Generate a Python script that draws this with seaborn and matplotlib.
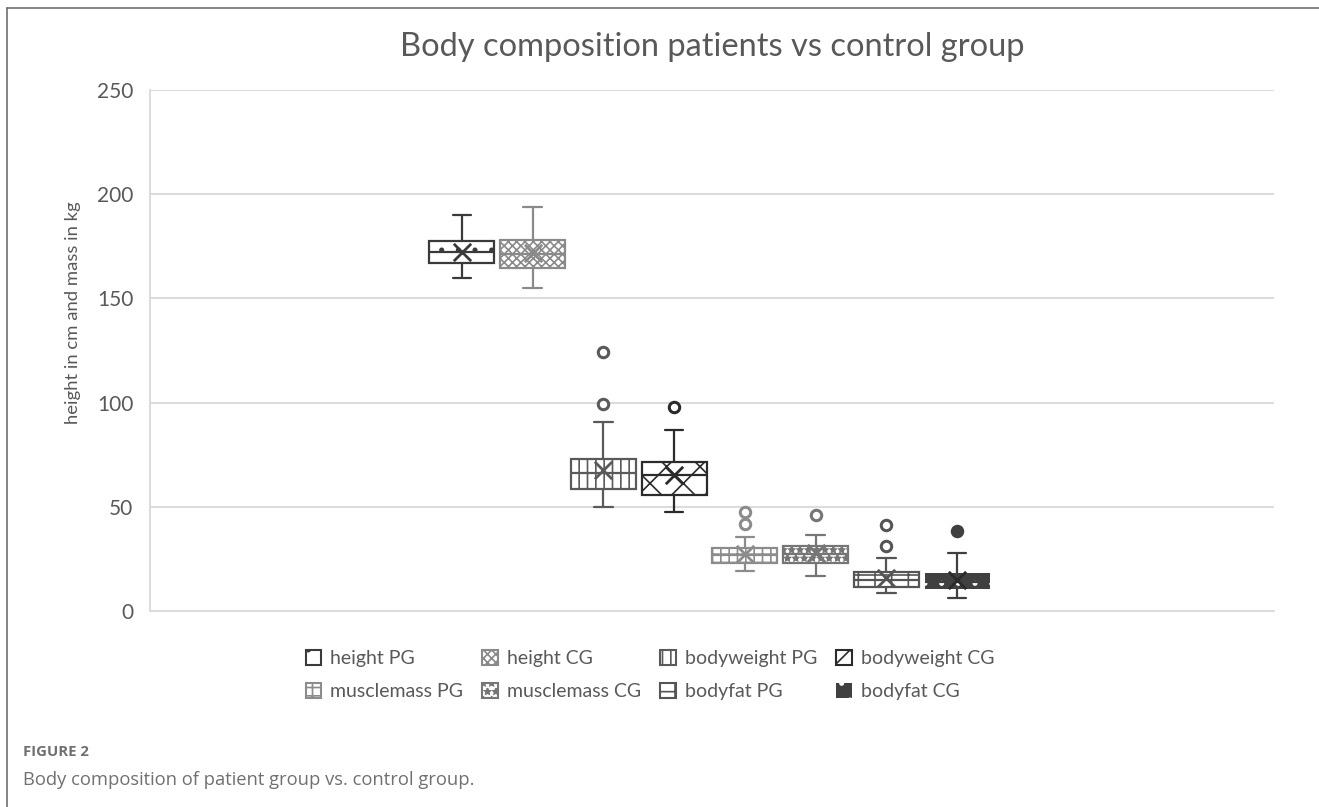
import numpy as np
import pandas as pd
import matplotlib.pyplot as plt
from matplotlib.patches import Patch
from matplotlib.lines import Line2D
import seaborn as sns

sns.set_style("white")
plt.rcParams['font.family'] = ['Lato', 'DejaVu Sans']
plt.rcParams['hatch.linewidth'] = 1.2

# five-number summaries
measures = ["height PG", "height CG", "bodyweight PG", "bodyweight CG",
            "musclemass PG", "musclemass CG", "bodyfat PG", "bodyfat CG"]
whisker_low = [159.9, 154.8, 49.8, 47.4, 19.3, 16.8, 8.5, 6.1]
q1 = [167.0, 164.7, 58.4, 55.7, 23.2, 22.9, 11.7, 10.4]
median = [172.4, 171.3, 66.0, 65.1, 26.9, 27.4, 14.9, 13.9]
q3 = [177.7, 178.0, 72.9, 71.6, 30.1, 31.3, 18.9, 18.1]
whisker_high = [190.0, 194.0, 90.5, 86.9, 35.4, 36.5, 25.3, 28.0]
means = [172.5, 172.0, 67.5, 65.3, 27.5, 28.0, 16.0, 14.9]
outliers = [[], [], [99.2, 124.3], [98.0], [41.6, 47.6], [46.2], [31.3, 41.3], [38.5]]

face_colors = ["white", "white", "white", "white", "white", "white", "white", "#404040"]
line_colors = ["#3a3a3a", "#8a8a8a", "#5a5a5a", "#2b2b2b", "#8c8c8c", "#767676", "#555555", "#404040"]
hatches = [".", "xxxx", "||", "x", "++", "**", "+", "."]

# five values per group -> quartiles land exactly on the summary values
rows = []
for m, lo, a, md, b, hi in zip(measures, whisker_low, q1, median, q3, whisker_high):
    for v in (lo, a, md, b, hi):
        rows.append((m, v))
df = pd.DataFrame(rows, columns=["measure", "value"])

fig = plt.figure(figsize=(13.19, 8.07), dpi=100)
ax = fig.add_axes([150 / 1319, 1 - 611 / 807, 1124 / 1319, 521 / 807])

for i, m in enumerate(measures):
    sub = df[df["measure"] == m]
    sns.boxplot(data=sub, x="measure", y="value", order=measures,
                color=face_colors[i], linecolor=line_colors[i], linewidth=1.6,
                width=0.92, whis=(0, 100), saturation=1, fliersize=0,
                capwidths=0.26, ax=ax)
    box = ax.patches[-1]
    box.set_hatch(hatches[i])
    if i == 7:
        # white dots on the dark box
        box.set_edgecolor("white")
        box.set_linewidth(0)
    if outliers[i]:
        sns.stripplot(x=[m] * len(outliers[i]), y=outliers[i], order=measures,
                      jitter=False, marker="o", size=7.5, color=face_colors[i],
                      edgecolor=line_colors[i], linewidth=2.2, ax=ax, zorder=4)
    sns.stripplot(x=[m], y=[means[i]], order=measures, jitter=False, marker="x",
                  size=12.5, color=line_colors[i] if i != 7 else "#2a2a2a",
                  linewidth=2, ax=ax, zorder=4)

ax.set_xlim(-4.41, 11.48)
ax.set_ylim(0, 250)
ax.set_yticks(np.arange(0, 251, 50))
ax.set_xticks([])
ax.set_xlabel("")
ax.set_ylabel("")
ax.yaxis.grid(True, color="#d9d9d9", linewidth=1.3)
ax.set_axisbelow(True)
for s in ["top", "right"]:
    ax.spines[s].set_visible(False)
for s in ["left", "bottom"]:
    ax.spines[s].set_color("#d9d9d9")
    ax.spines[s].set_linewidth(1.3)
ax.tick_params(axis="y", length=0, pad=12, labelsize=15, labelcolor="#595959")

fig.text(712 / 1319, 1 - 47 / 807, "Body composition patients vs control group",
         ha="center", va="center", fontsize=23.5, color="#595959")
fig.text(73 / 1319, 1 - 313 / 807, "height in cm and mass in kg", rotation=90,
         ha="center", va="center", fontsize=13.3, color="#595959")

handles = []
for i, m in enumerate(measures):
    if i == 7:
        h = Patch(facecolor=face_colors[i], edgecolor="white", hatch=hatches[i],
                  linewidth=0, label=m)
    else:
        h = Patch(facecolor=face_colors[i], edgecolor=line_colors[i],
                  hatch=hatches[i], linewidth=1.5, label=m)
    handles.append(h)
order = [0, 4, 1, 5, 2, 6, 3, 7]
fig.legend(handles=[handles[k] for k in order], ncol=4, loc="center",
           bbox_to_anchor=(650 / 1319, 1 - 675 / 807), frameon=False,
           fontsize=14, labelcolor="#595959", handlelength=0.8, handleheight=0.8,
           handletextpad=0.45, columnspacing=1.0, labelspacing=0.8)

# figure frame (top and left rules) and caption
fig.add_artist(Line2D([7 / 1319, 1.01], [1 - 8 / 807, 1 - 8 / 807],
                      transform=fig.transFigure, color="#707070", linewidth=1.2))
fig.add_artist(Line2D([7 / 1319, 7 / 1319], [-0.01, 1 - 8 / 807],
                      transform=fig.transFigure, color="#707070", linewidth=1.2))
fig.text(23 / 1319, 1 - 752 / 807, "FIGURE 2", ha="left", va="center",
         fontsize=10.7, fontweight="bold", color="#707070", family=["Open Sans", "DejaVu Sans"])
fig.text(23 / 1319, 1 - 780 / 807, "Body composition of patient group vs. control group.",
         ha="left", va="center", fontsize=13.2, color="#707070", family=["Open Sans", "DejaVu Sans"])

fig.savefig("out.png", dpi=100)
